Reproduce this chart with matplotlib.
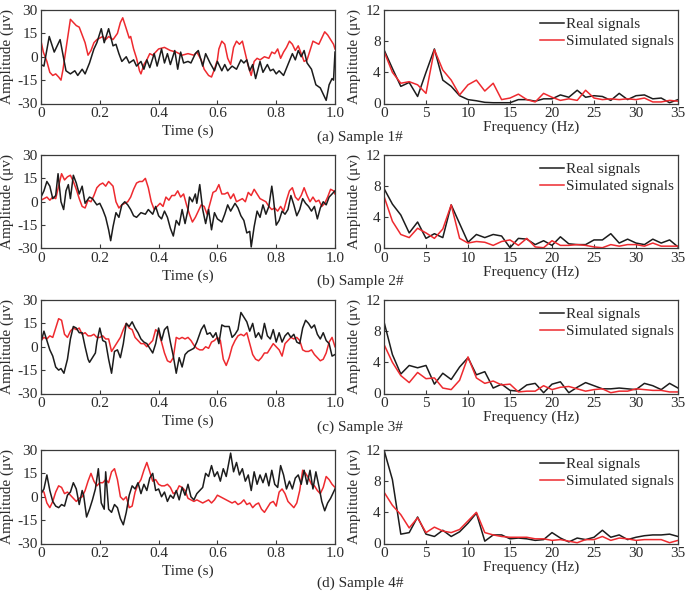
# >>>> </> IMPORTS </>
# >>>> ************************************************************************************************
import numpy as np
from matplotlib import pyplot as plt
# >>>> ************************************************************************************************

# >>>> </> DATA </>
# >>>> ************************************************************************************************
# --- time-domain signals: (time [s], amplitude [uV]) ---
real_a = [(0.0, -5), (0.01, -6), (0.028, 13), (0.045, 3), (0.065, 11), (0.085, -9), (0.10, -11),
          (0.115, -9), (0.125, -12), (0.14, -8), (0.15, -11), (0.165, -4), (0.18, 5), (0.19, 9),
          (0.205, 18), (0.215, 9), (0.23, 18), (0.245, 7), (0.255, 8), (0.265, 2), (0.275, -3),
          (0.29, 0), (0.30, -4), (0.315, -2), (0.325, -6), (0.34, -3), (0.35, -8), (0.36, -2),
          (0.37, -7), (0.385, 2), (0.395, -6), (0.41, 5), (0.42, -4), (0.43, 2), (0.44, -5),
          (0.455, 4), (0.465, -8), (0.475, 3), (0.485, -4), (0.50, -3), (0.51, -4), (0.525, 2),
          (0.535, 4), (0.55, -6), (0.56, 2), (0.575, -4), (0.59, -9), (0.60, -3), (0.615, -9),
          (0.625, -5), (0.635, -9), (0.65, -6), (0.665, -8), (0.68, -2), (0.69, -4), (0.70, -2),
          (0.71, -9), (0.72, -5), (0.73, -14), (0.745, -3), (0.755, -10), (0.77, -5), (0.78, -9),
          (0.79, -8), (0.80, -11), (0.81, -9), (0.825, -12), (0.84, -5), (0.855, 2), (0.865, -2),
          (0.875, 4), (0.885, 0), (0.895, 4), (0.905, -4), (0.92, -8), (0.935, -18), (0.95, -20),
          (0.96, -24), (0.97, -28), (0.98, -18), (0.99, -14), (0.995, -15), (1.0, 3)]
sim_a = [(0.0, 10), (0.008, 3), (0.02, -3), (0.03, -10), (0.04, -12), (0.05, -11), (0.06, -13),
         (0.068, -15), (0.075, -8), (0.085, 5), (0.10, 24), (0.11, 22), (0.12, 20), (0.13, 19),
         (0.14, 14), (0.15, 9), (0.16, 1), (0.17, 4), (0.18, 9), (0.19, 11), (0.20, 12), (0.21, 13),
         (0.22, 11), (0.23, 13), (0.245, 11), (0.26, 15), (0.27, 22), (0.278, 25), (0.29, 18),
         (0.30, 12), (0.305, 13), (0.315, 5), (0.325, -1), (0.335, -9), (0.34, -11), (0.35, -5),
         (0.36, -2), (0.37, 2), (0.38, 1), (0.39, 3), (0.40, 5), (0.42, 6), (0.44, 4), (0.46, 3),
         (0.48, 1), (0.50, 2), (0.52, 1), (0.53, 3), (0.545, -2), (0.555, -8), (0.57, -12),
         (0.58, -13), (0.59, -8), (0.60, -2), (0.605, 5), (0.615, 10), (0.625, 8), (0.635, -1),
         (0.645, -5), (0.655, 6), (0.665, 10), (0.675, 8), (0.685, 10), (0.695, 2), (0.705, -6),
         (0.715, -12), (0.725, -3), (0.735, -1), (0.745, -2), (0.76, 0), (0.775, -1), (0.785, 3),
         (0.795, 2), (0.805, 5), (0.815, -1), (0.825, 3), (0.835, 6), (0.845, 10), (0.855, 8),
         (0.865, 4), (0.875, 7), (0.885, 2), (0.895, -3), (0.905, -2), (0.915, 4), (0.925, 10),
         (0.935, 9), (0.945, 8), (0.955, 12), (0.965, 16), (0.975, 14), (0.985, 11), (0.995, 8),
         (1.0, 5)]

real_b = [(0.0, 3), (0.01, 7), (0.02, 13), (0.03, 10), (0.04, 2), (0.05, 4), (0.058, 18), (0.068, 0),
          (0.077, -5), (0.085, 7), (0.093, 11), (0.10, 2), (0.11, 17), (0.12, 12), (0.13, 5),
          (0.14, 10), (0.15, -1), (0.165, 3), (0.175, 2), (0.19, -2), (0.20, -1), (0.21, -5),
          (0.22, -10), (0.23, -18), (0.237, -25), (0.245, -16), (0.255, -7), (0.265, -10),
          (0.275, -2), (0.285, 0), (0.295, -2), (0.305, -5), (0.315, -9), (0.325, -10), (0.34, -7),
          (0.355, -8), (0.365, -5), (0.38, -8), (0.39, -3), (0.40, -9), (0.41, -11), (0.42, -6),
          (0.43, -10), (0.44, -17), (0.45, -22), (0.46, -12), (0.47, -15), (0.48, -5), (0.49, -14),
          (0.50, -5), (0.505, 3), (0.515, 0), (0.525, 5), (0.53, -1), (0.54, 11), (0.55, -5),
          (0.56, -14), (0.57, -5), (0.58, -18), (0.59, -7), (0.60, -11), (0.615, -13), (0.625, -8),
          (0.635, -2), (0.645, -6), (0.66, -1), (0.67, -4), (0.68, -9), (0.69, -12), (0.70, -20),
          (0.71, -19), (0.715, -29), (0.725, -16), (0.735, -6), (0.745, -10), (0.755, -2),
          (0.765, -8), (0.775, -3), (0.785, 10), (0.79, 3), (0.80, -15), (0.81, -12), (0.82, -6),
          (0.83, -8), (0.84, -5), (0.85, 4), (0.86, -2), (0.87, -9), (0.88, -5), (0.89, 2),
          (0.90, -1), (0.91, -3), (0.92, -6), (0.93, -3), (0.94, -11), (0.95, -4), (0.96, 0),
          (0.97, -2), (0.98, 3), (0.99, 5), (1.0, 7)]
sim_b = [(0.0, 1), (0.01, 2), (0.02, 3), (0.03, 1), (0.04, 3), (0.05, 2), (0.06, 10), (0.07, 18),
         (0.08, 14), (0.09, 16), (0.10, 17), (0.11, 13), (0.12, 8), (0.13, 2), (0.14, -3),
         (0.15, -4), (0.16, 1), (0.17, 0), (0.18, 4), (0.19, 9), (0.20, 11), (0.21, 12), (0.22, 10),
         (0.23, 13), (0.245, 10), (0.255, 0), (0.265, -4), (0.275, -2), (0.285, -1), (0.295, 0),
         (0.305, 3), (0.315, 8), (0.325, 12), (0.335, 13), (0.345, 13), (0.355, 15), (0.365, 9),
         (0.375, 0), (0.385, -5), (0.395, -3), (0.405, -1), (0.415, -3), (0.425, 3), (0.435, 1),
         (0.445, 4), (0.455, 4), (0.465, 7), (0.475, 3), (0.485, 5), (0.495, -2), (0.505, -8),
         (0.515, -13), (0.525, -10), (0.535, -6), (0.545, -2), (0.555, -3), (0.565, -8),
         (0.575, -1), (0.585, 6), (0.595, 7), (0.605, 11), (0.615, 5), (0.625, 5), (0.635, 6),
         (0.645, 2), (0.655, 5), (0.665, 0), (0.675, 1), (0.685, 2), (0.695, 0), (0.705, 6),
         (0.715, 4), (0.725, 8), (0.735, 5), (0.745, 2), (0.755, 1), (0.765, 0), (0.775, -3),
         (0.785, -5), (0.795, -4), (0.805, -6), (0.815, -3), (0.825, -6), (0.835, 1), (0.845, 7),
         (0.855, 9), (0.865, 3), (0.875, 1), (0.885, 4), (0.895, 9), (0.905, 4), (0.915, 0),
         (0.925, 3), (0.935, 0), (0.945, 1), (0.955, -3), (0.965, -1), (0.975, 3), (0.985, 8),
         (0.995, 7), (1.0, 5)]

real_c = [(0.0, 3), (0.01, 10), (0.02, 4), (0.03, -2), (0.04, -6), (0.05, -13), (0.06, -15),
          (0.068, -14), (0.078, -17), (0.09, -8), (0.10, 5), (0.11, 13), (0.12, 12), (0.13, 9),
          (0.14, 9), (0.15, 0), (0.16, -8), (0.165, -10), (0.175, -7), (0.185, -4), (0.19, 3),
          (0.20, 12), (0.21, 4), (0.22, 3), (0.23, -8), (0.24, -17), (0.25, -3), (0.26, -2),
          (0.27, -7), (0.28, 2), (0.29, 15), (0.30, 13), (0.31, 16), (0.32, 12), (0.33, 9),
          (0.34, 5), (0.35, 3), (0.36, 2), (0.37, -1), (0.38, -4), (0.39, 2), (0.40, 12), (0.41, 4),
          (0.42, 11), (0.43, 13), (0.44, 3), (0.45, -6), (0.46, -17), (0.47, -7), (0.48, -13),
          (0.49, -5), (0.50, -3), (0.51, -2), (0.52, -1), (0.53, 3), (0.545, 11), (0.555, 14),
          (0.565, 8), (0.575, 9), (0.585, 6), (0.595, 9), (0.605, 2), (0.615, 14), (0.625, 13),
          (0.64, 13), (0.65, 6), (0.66, 8), (0.67, 11), (0.68, 22), (0.69, 19), (0.70, 16),
          (0.71, 10), (0.72, 15), (0.73, 6), (0.74, 9), (0.75, 5), (0.76, 15), (0.77, 7), (0.78, 5),
          (0.79, 11), (0.80, 3), (0.81, 9), (0.82, 3), (0.83, 7), (0.84, 9), (0.85, 6), (0.86, 8),
          (0.87, 3), (0.88, 2), (0.89, 12), (0.90, 17), (0.91, 15), (0.92, 12), (0.93, 14),
          (0.94, 8), (0.95, 5), (0.96, 9), (0.97, 4), (0.98, 2), (0.99, -6), (1.0, -5)]
sim_c = [(0.0, 4), (0.01, 6), (0.02, 5), (0.03, 7), (0.04, 6), (0.05, 12), (0.06, 18), (0.07, 17),
         (0.08, 8), (0.09, 6), (0.10, 10), (0.11, 12), (0.12, 11), (0.13, 12), (0.14, 8), (0.15, 9),
         (0.16, 7), (0.17, 7), (0.18, 8), (0.19, 6), (0.20, 6), (0.21, 7), (0.22, 5), (0.23, 5),
         (0.24, -3), (0.25, 0), (0.26, 3), (0.27, 6), (0.28, 11), (0.29, 15), (0.30, 12),
         (0.31, 11), (0.32, 6), (0.33, 4), (0.34, 2), (0.35, 2), (0.36, 0), (0.37, 2), (0.38, 4),
         (0.39, 11), (0.40, 9), (0.41, 3), (0.42, -4), (0.43, -9), (0.44, -10), (0.45, -7),
         (0.46, 6), (0.47, 5), (0.48, 6), (0.49, 5), (0.50, 6), (0.51, 4), (0.52, 1), (0.53, -1),
         (0.54, -2), (0.55, -2), (0.56, 0), (0.57, -1), (0.58, 3), (0.59, 4), (0.60, 6), (0.61, 4),
         (0.62, -8), (0.63, -12), (0.64, -7), (0.65, 0), (0.66, 4), (0.67, 7), (0.68, 8), (0.69, 7),
         (0.70, 9), (0.71, 2), (0.72, -5), (0.73, -8), (0.74, -9), (0.75, -7), (0.76, -4),
         (0.77, -4), (0.78, -1), (0.79, 2), (0.80, 0), (0.81, -2), (0.82, -6), (0.83, 2), (0.84, 4),
         (0.85, 6), (0.86, 5), (0.87, 6), (0.88, 4), (0.89, -2), (0.90, -3), (0.91, -3), (0.92, -2),
         (0.93, -5), (0.94, -7), (0.95, -9), (0.96, -8), (0.97, -4), (0.98, 3), (0.99, 6), (1.0, 0)]

real_d = [(0.0, 2), (0.01, 5), (0.02, 14), (0.03, 4), (0.04, -3), (0.05, -6), (0.06, -7), (0.07, -5),
          (0.08, -6), (0.09, 1), (0.10, 3), (0.11, 9), (0.12, 5), (0.13, -5), (0.14, 4), (0.145, 1),
          (0.155, -13), (0.165, -8), (0.175, -2), (0.185, 5), (0.195, 18), (0.205, -4), (0.215, -8),
          (0.22, 16), (0.23, -8), (0.24, -10), (0.25, -5), (0.26, -7), (0.27, -14), (0.28, -18),
          (0.29, -10), (0.30, 1), (0.31, 7), (0.32, 5), (0.33, 9), (0.34, 2), (0.35, 8), (0.36, 4),
          (0.37, 12), (0.38, 15), (0.39, 4), (0.40, 5), (0.41, 0), (0.42, 3), (0.43, -3), (0.44, 1),
          (0.45, -1), (0.46, 4), (0.47, -2), (0.48, 6), (0.49, 1), (0.50, 8), (0.51, 0), (0.52, -2),
          (0.53, 2), (0.54, 4), (0.55, 6), (0.56, 15), (0.57, 13), (0.58, 20), (0.59, 13),
          (0.60, 16), (0.61, 10), (0.62, 18), (0.63, 13), (0.645, 28), (0.655, 16), (0.665, 22),
          (0.675, 14), (0.685, 18), (0.695, 10), (0.705, 14), (0.715, 4), (0.725, 16), (0.735, 8),
          (0.745, 14), (0.755, 9), (0.765, 15), (0.775, 7), (0.785, 17), (0.795, 8), (0.805, 6),
          (0.815, 20), (0.825, 14), (0.835, 5), (0.845, 10), (0.855, 5), (0.865, 12), (0.875, 14),
          (0.885, 8), (0.895, 17), (0.905, 8), (0.915, 17), (0.925, 5), (0.935, 16), (0.945, 7),
          (0.955, -3), (0.965, -9), (0.975, -4), (0.985, -1), (0.995, 3), (1.0, 5)]
sim_d = [(0.0, 4), (0.01, 3), (0.02, -4), (0.03, -7), (0.04, -3), (0.05, 3), (0.06, 7), (0.07, 6),
         (0.08, 2), (0.09, 3), (0.10, 1), (0.11, -1), (0.12, -3), (0.13, -1), (0.14, 0), (0.15, 4),
         (0.16, 10), (0.17, 15), (0.18, 10), (0.19, 7), (0.20, 9), (0.21, 9), (0.22, 11), (0.23, 9),
         (0.24, 16), (0.25, 18), (0.26, 11), (0.27, 0), (0.28, -2), (0.29, 0), (0.30, -7),
         (0.31, -6), (0.32, 3), (0.33, 8), (0.34, 11), (0.35, 17), (0.36, 22), (0.37, 16),
         (0.38, 10), (0.39, 11), (0.40, 8), (0.41, 7), (0.42, 7), (0.43, 8), (0.44, 6), (0.45, 2),
         (0.46, 3), (0.47, 7), (0.48, 6), (0.49, 4), (0.50, -1), (0.51, -2), (0.52, -3), (0.53, -2),
         (0.54, -3), (0.55, -4), (0.56, -3), (0.57, -2), (0.58, -4), (0.59, -2), (0.60, 1),
         (0.61, 0), (0.62, -1), (0.63, -2), (0.64, -3), (0.65, -4), (0.66, -3), (0.67, -5),
         (0.68, -4), (0.69, -2), (0.70, -5), (0.71, -4), (0.72, -7), (0.73, -5), (0.74, -4),
         (0.75, -8), (0.76, -10), (0.77, -7), (0.78, -4), (0.79, -3), (0.80, -6), (0.81, 3),
         (0.82, 5), (0.83, 2), (0.84, -3), (0.85, -5), (0.86, -7), (0.87, -4), (0.88, 4),
         (0.89, 17), (0.90, 15), (0.91, 12), (0.92, 8), (0.93, 7), (0.94, 4), (0.95, 2), (0.96, 6),
         (0.97, 13), (0.98, 11), (0.99, 8), (1.0, 6)]

# --- amplitude spectra, one value per 1 Hz bin (0 .. 35 Hz) ---
freq_hz = np.arange(36)
spec_real_a = [6.9, 4.5, 2.2, 2.7, 0.9, 4.0, 7.0, 3.0, 2.2, 1.0, 0.5, 0.35, 0.15, 0.1, 0.1, 0.1, 0.5, 0.5,
               0.3, 0.6, 0.6, 1.1, 0.8, 1.7, 0.8, 1.0, 0.9, 0.4, 1.3, 0.5, 1.0, 1.1, 0.6, 0.7, 0.1, 0.5]
spec_sim_a = [6.7, 4.0, 2.6, 2.8, 2.4, 1.3, 6.9, 4.3, 3.0, 1.1, 2.4, 3.0, 1.6, 2.6, 0.5, 0.7, 1.2, 0.5,
              0.2, 1.3, 0.8, 0.4, 0.6, 0.4, 1.7, 0.7, 0.5, 0.6, 0.5, 0.6, 0.5, 0.7, 0.2, 0.2, 0.4, 0.3]
spec_real_b = [7.7, 5.7, 4.3, 2.0, 3.4, 1.3, 1.9, 1.4, 5.6, 3.2, 0.8, 1.8, 1.4, 1.8, 1.6, 0.1, 1.3, 1.2,
               0.5, 1.0, 0.4, 1.5, 0.6, 0.5, 0.5, 1.1, 1.1, 1.9, 0.7, 1.2, 0.7, 0.5, 1.2, 0.7, 1.1, 0.2]
spec_sim_b = [6.7, 3.5, 1.8, 1.4, 2.6, 2.0, 1.3, 2.5, 5.6, 1.3, 0.7, 0.9, 0.8, 0.4, 0.9, 1.1, 0.4, 1.3,
              0.2, 0.1, 1.0, 0.4, 0.4, 0.5, 0.4, 0.2, 0.1, 0.5, 0.3, 0.5, 0.5, 0.3, 0.7, 0.3, 0.3, 0.3]
spec_real_c = [9.2, 5.0, 2.5, 3.6, 3.3, 3.6, 1.2, 2.6, 1.8, 3.4, 4.6, 2.4, 2.8, 0.7, 1.2, 0.4, 0.3, 1.1,
               1.3, 0.1, 1.2, 1.5, 0.1, 0.8, 1.4, 1.0, 0.6, 0.6, 0.7, 0.6, 0.5, 1.3, 1.0, 0.5, 1.3, 0.7]
spec_sim_c = [6.3, 4.0, 2.3, 1.4, 2.7, 1.9, 2.0, 0.7, 0.5, 1.7, 4.7, 2.0, 1.3, 1.6, 1.1, 1.2, 0.2, 0.3,
              0.3, 1.0, 0.5, 0.8, 0.9, 0.6, 0.3, 0.5, 0.6, 0.1, 0.3, 0.3, 0.6, 0.5, 0.4, 0.4, 0.2, 0.2]
spec_real_d = [12.0, 8.2, 1.2, 1.4, 3.4, 1.2, 0.9, 1.7, 0.9, 1.5, 2.6, 3.9, 0.3, 1.1, 1.1, 0.6, 0.7, 0.6,
               0.4, 0.5, 1.4, 0.7, 0.2, 0.7, 0.5, 0.8, 1.7, 0.8, 1.1, 0.5, 0.8, 1.0, 1.1, 1.1, 1.2, 0.9]
spec_sim_d = [6.6, 4.9, 3.7, 2.0, 3.3, 1.4, 2.1, 1.6, 1.4, 1.8, 2.9, 4.0, 1.4, 1.1, 0.9, 0.8, 0.8, 0.8,
              0.6, 0.6, 0.4, 0.5, 0.3, 0.1, 0.5, 0.5, 0.9, 0.4, 0.7, 0.6, 0.4, 0.5, 0.5, 0.5, 0.1, 0.4]

captions = ["(a) Sample 1#", "(b) Sample 2#", "(c) Sample 3#", "(d) Sample 4#"]
legend_labels = ["Real signals", "Simulated signals"]
time_ticks = [0.0, 0.2, 0.4, 0.6, 0.8, 1.0]
time_tick_labels = ["0", "0.2", "0.4", "0.6", "0.8", "1.0"]
amp_ticks = [-30, -15, 0, 15, 30]
freq_ticks = [0, 5, 10, 15, 20, 25, 30, 35]
spec_ticks = [0, 4, 8, 12]
# >>>> ************************************************************************************************

# >>>> </> STYLE </>
# >>>> ************************************************************************************************
plt.rcParams["font.family"] = ["Liberation Serif", "DejaVu Serif"]
plt.rcParams["font.size"] = 11
plt.rcParams["axes.unicode_minus"] = False

TEXT_COLOR = "#2b2b2b"
SPINE_COLOR = "#3a3a3a"
REAL_COLOR = "#1c1c1c"
SIM_COLOR = "#ee2a2f"
LW = 1.1

# figure pixel geometry (685 x 591)
FIG_W, FIG_H = 685, 591
LEFT_X = (41, 335)
RIGHT_X = (384, 678)
ROWS_Y = [(10, 103.5), (155, 248.5), (300, 393.5), (450, 543.5)]
CAPTION_Y = [137, 281, 427, 583]
CAPTION_X = 360


def px_rect(x_pair, y_pair):
    x0, x1 = x_pair
    y0, y1 = y_pair
    return [x0 / FIG_W, 1 - y1 / FIG_H, (x1 - x0) / FIG_W, (y1 - y0) / FIG_H]


def style_axes(ax):
    for spine in ax.spines.values():
        spine.set_color(SPINE_COLOR)
        spine.set_linewidth(0.9)
    ax.tick_params(direction="in", length=3, width=0.8, color=SPINE_COLOR,
                   labelcolor=TEXT_COLOR, labelsize=11, pad=2.5)


# >>>> ************************************************************************************************

# >>>> </> PLOT </>
# >>>> ************************************************************************************************
fig = plt.figure(figsize=(FIG_W / 100, FIG_H / 100), dpi=100)

time_sets = [(real_a, sim_a), (real_b, sim_b), (real_c, sim_c), (real_d, sim_d)]
spec_sets = [(spec_real_a, spec_sim_a), (spec_real_b, spec_sim_b),
             (spec_real_c, spec_sim_c), (spec_real_d, spec_sim_d)]

for row in range(4):
    # ___________________________________________________________________________________________
    # --- TIME DOMAIN ---
    ax_t = fig.add_axes(px_rect(LEFT_X, ROWS_Y[row]))
    real_pts, sim_pts = time_sets[row]
    t_r, v_r = zip(*real_pts)
    t_s, v_s = zip(*sim_pts)
    ax_t.plot(t_s, v_s, color=SIM_COLOR, lw=LW)
    ax_t.plot(t_r, v_r, color=REAL_COLOR, lw=LW)
    ax_t.set_xlim(0, 1)
    ax_t.set_ylim(-30, 30)
    ax_t.set_xticks(time_ticks)
    ax_t.set_xticklabels(time_tick_labels)
    ax_t.set_yticks(amp_ticks)
    ax_t.set_xlabel("Time (s)", color=TEXT_COLOR, labelpad=3)
    ax_t.set_ylabel("Amplitude (μv)", color=TEXT_COLOR, labelpad=2)
    style_axes(ax_t)

    # ___________________________________________________________________________________________
    # --- FREQUENCY DOMAIN ---
    ax_f = fig.add_axes(px_rect(RIGHT_X, ROWS_Y[row]))
    spec_real, spec_sim = spec_sets[row]
    ax_f.plot(freq_hz, spec_real, color=REAL_COLOR, lw=LW, label=legend_labels[0])
    ax_f.plot(freq_hz, spec_sim, color=SIM_COLOR, lw=LW, label=legend_labels[1])
    ax_f.set_xlim(0, 35)
    ax_f.set_ylim(0, 12)
    ax_f.set_xticks(freq_ticks)
    ax_f.set_yticks(spec_ticks)
    ax_f.set_xlabel("Frequency (Hz)", color=TEXT_COLOR, labelpad=0.5)
    ax_f.set_ylabel("Amplitude (μv)", color=TEXT_COLOR, labelpad=3)
    style_axes(ax_f)
    leg = ax_f.legend(loc="upper right", bbox_to_anchor=(1.012, 1.0), frameon=False,
                      handlelength=1.55, handletextpad=0.15, labelspacing=0.2,
                      borderaxespad=0.1, fontsize=11)
    for txt in leg.get_texts():
        txt.set_color(TEXT_COLOR)

    # ___________________________________________________________________________________________
    # --- CAPTION ---
    fig.text(CAPTION_X / FIG_W, 1 - CAPTION_Y[row] / FIG_H, captions[row],
             ha="center", va="center", color=TEXT_COLOR, fontsize=11)

fig.savefig("out.png", dpi=100)
# >>>> ************************************************************************************************
